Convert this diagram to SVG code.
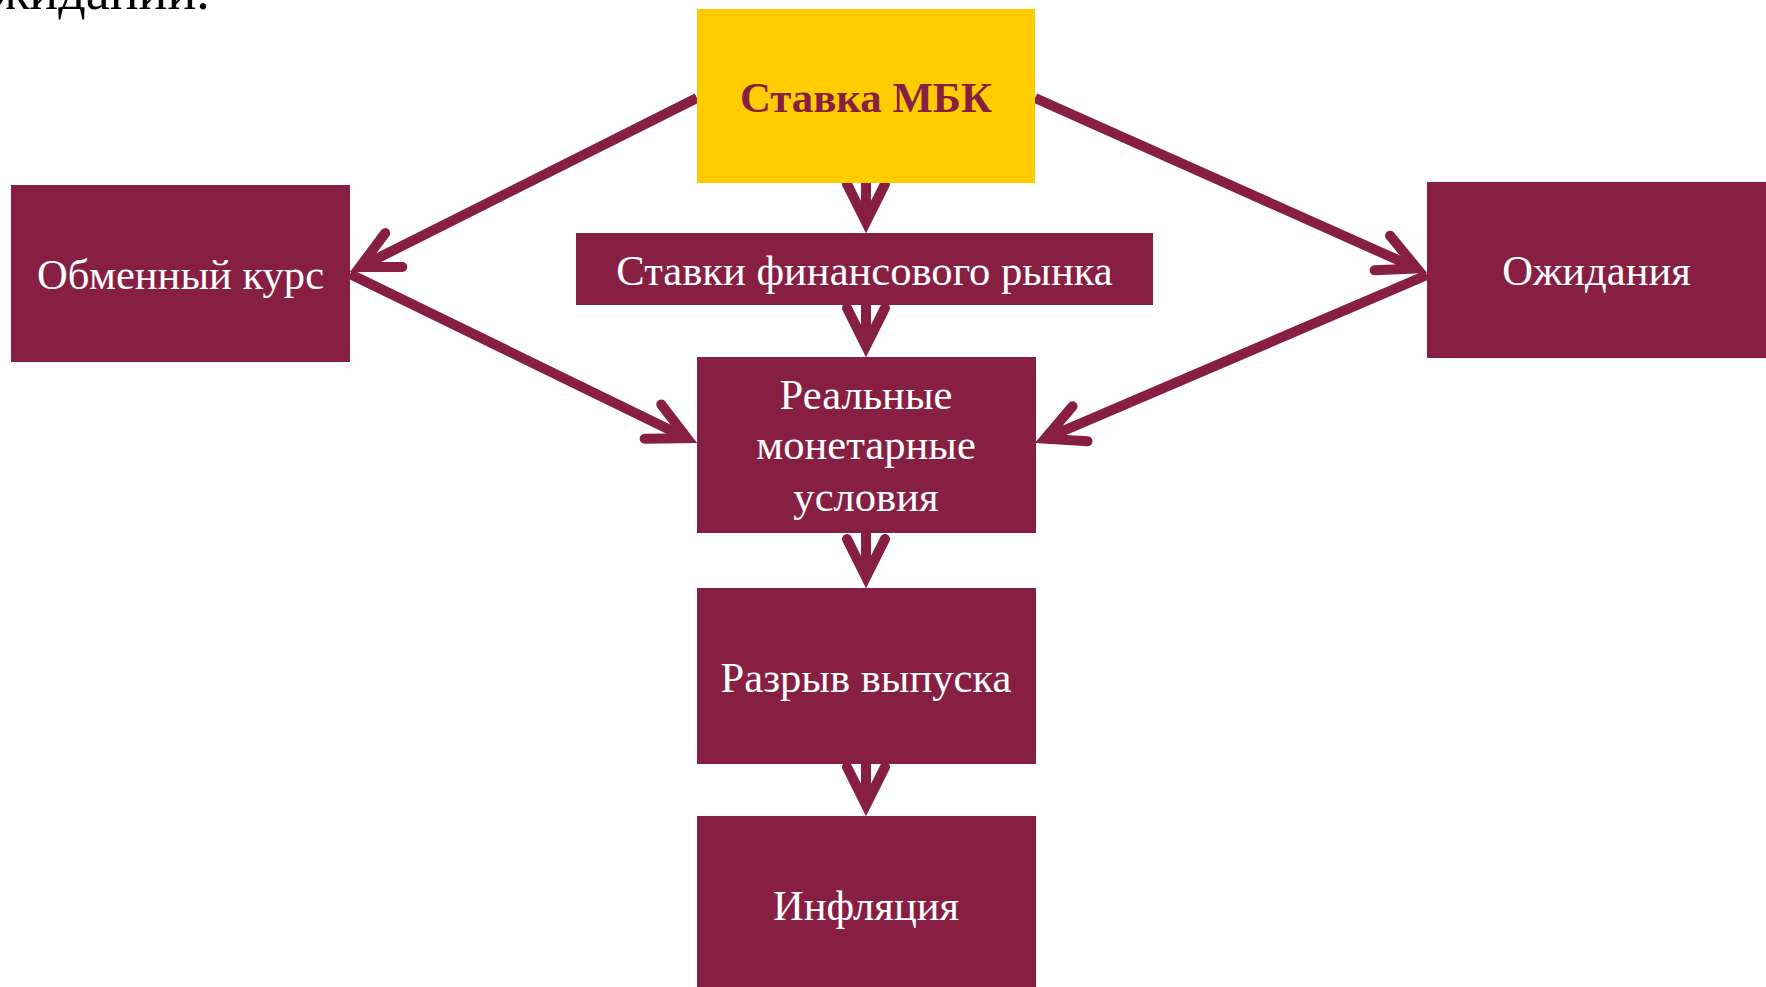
<svg xmlns="http://www.w3.org/2000/svg" width="1766" height="987" viewBox="0 0 1766 987">
<style>
.box{fill:#871F42;}
.yel{fill:#FFCC00;}
.lbl{font-family:"Liberation Serif","Times New Roman",serif;font-size:42.6px;fill:#FFFFFF;text-anchor:middle;}
.lblb{font-family:"Liberation Serif","Times New Roman",serif;font-size:42.8px;font-weight:bold;fill:#871F42;text-anchor:middle;}
.top{font-family:"Liberation Serif","Times New Roman",serif;font-size:54px;fill:#000000;}
.con{stroke:#871F42;stroke-width:10;fill:none;stroke-linecap:butt;}
</style>
<defs>
<marker id="ah" markerUnits="userSpaceOnUse" viewBox="-60 -40 90 80" refX="0" refY="0" markerWidth="90" markerHeight="80" orient="auto" overflow="visible">
<path d="M-38,-19 L0,0 L-38,19" fill="none" stroke="#871F42" stroke-width="10" stroke-linecap="round" stroke-linejoin="miter"/>
</marker>
</defs>
<rect width="1766" height="987" fill="#FFFFFF"/>
<text class="top" x="-8" y="9">жидании.</text>
<g id="connectors">
<line class="con" x1="697" y1="98" x2="359.8" y2="267.1" marker-end="url(#ah)"/>
<line class="con" x1="350" y1="274" x2="687.1" y2="438.2" marker-end="url(#ah)"/>
<line class="con" x1="1035" y1="98" x2="1417" y2="268.5" marker-end="url(#ah)"/>
<line class="con" x1="1427" y1="275" x2="1045.1" y2="438.7" marker-end="url(#ah)"/>
<line class="con" x1="866" y1="183" x2="866" y2="222" marker-end="url(#ah)"/>
<line class="con" x1="866" y1="305" x2="866" y2="346" marker-end="url(#ah)"/>
<line class="con" x1="866" y1="533" x2="866" y2="577" marker-end="url(#ah)"/>
<line class="con" x1="866" y1="764" x2="866" y2="805" marker-end="url(#ah)"/>
</g>
<g id="n-mbk">
<rect class="yel" x="697" y="9" width="338" height="174"/>
<text class="lblb" x="866" y="112">Ставка МБК</text>
</g>
<g id="n-fin">
<rect class="box" x="576" y="233" width="577" height="72"/>
<text class="lbl" x="864.5" y="285">Ставки финансового рынка</text>
</g>
<g id="n-fx">
<rect class="box" x="11" y="185" width="339" height="177"/>
<text class="lbl" x="180.5" y="289">Обменный курс</text>
</g>
<g id="n-exp">
<rect class="box" x="1427" y="182" width="339" height="176"/>
<text class="lbl" x="1596.5" y="285">Ожидания</text>
</g>
<g id="n-real">
<rect class="box" x="697" y="357" width="339" height="176"/>
<text class="lbl" x="866" y="409">Реальные</text>
<text class="lbl" x="866" y="459">монетарные</text>
<text class="lbl" x="866" y="511">условия</text>
</g>
<g id="n-gap">
<rect class="box" x="697" y="588" width="339" height="176"/>
<text class="lbl" x="866" y="692">Разрыв выпуска</text>
</g>
<g id="n-inf">
<rect class="box" x="697" y="816" width="339" height="176"/>
<text class="lbl" x="866" y="920">Инфляция</text>
</g>
</svg>
